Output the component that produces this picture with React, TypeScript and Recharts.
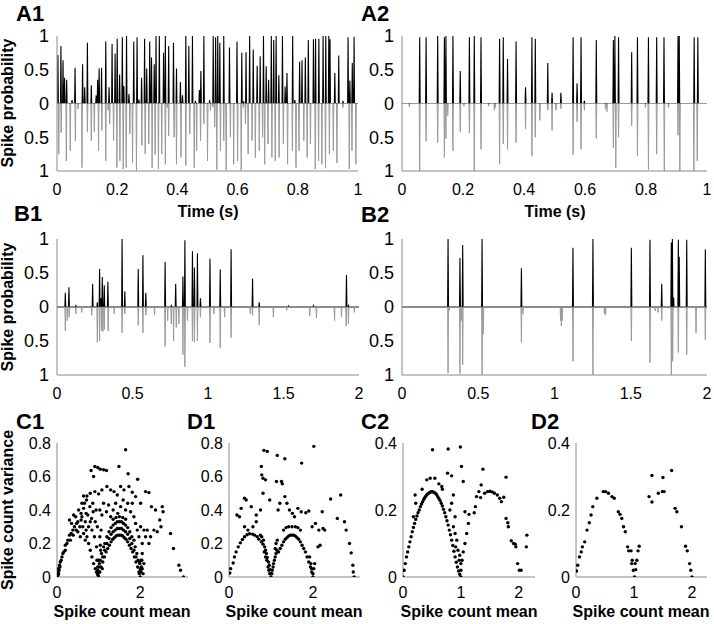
import React from "react";
import { LineChart, Line, XAxis, YAxis, ScatterChart, Scatter } from "recharts";

const FONT = '"Liberation Sans", Arial, Helvetica, sans-serif';
const AXIS = "#8a8a8a";

type Pair = [number, number];

// spike probability, [time (s), probability]
const A1_UP: Pair[] = [
  [0.003,0.72],[0.013,0.85],[0.02,0.64],[0.025,0.38],[0.032,0.35],[0.05,0.05],[0.06,0.53],[0.085,0.58],[0.092,0.24],
  [0.101,0.9],[0.114,0.27],[0.13,0.12],[0.135,0.35],[0.14,0.52],[0.148,0.53],[0.162,0.92],[0.173,0.24],[0.183,0.88],
  [0.193,0.74],[0.2,0.96],[0.208,0.43],[0.217,0.98],[0.222,0.26],[0.231,1.0],[0.239,0.14],[0.255,0.92],[0.266,0.98],
  [0.272,0.06],[0.281,0.38],[0.291,0.96],[0.298,0.52],[0.308,0.92],[0.314,0.68],[0.323,0.58],[0.329,1.0],[0.34,1.0],
  [0.354,0.75],[0.36,1.0],[0.371,0.85],[0.387,0.9],[0.397,0.52],[0.41,0.32],[0.417,0.12],[0.428,1.0],[0.438,0.85],
  [0.45,1.0],[0.46,0.04],[0.473,0.2],[0.478,0.48],[0.488,1.0],[0.507,0.05],[0.519,1.0],[0.527,0.98],[0.534,1.0],
  [0.541,0.9],[0.554,1.0],[0.573,0.83],[0.598,0.92],[0.614,0.75],[0.62,0.03],[0.628,0.76],[0.64,1.0],[0.652,0.8],
  [0.665,0.56],[0.675,0.7],[0.686,1.0],[0.695,0.55],[0.703,0.35],[0.712,1.0],[0.72,0.94],[0.728,1.0],[0.737,0.42],
  [0.749,1.0],[0.758,0.25],[0.764,0.45],[0.783,1.0],[0.79,0.05],[0.806,0.62],[0.814,0.64],[0.825,0.68],[0.835,0.94],
  [0.852,0.95],[0.859,0.96],[0.87,0.96],[0.884,1.0],[0.893,1.0],[0.903,1.0],[0.907,0.95],[0.923,0.45],[0.936,0.71],
  [0.95,0.04],[0.967,0.98],[0.973,0.34],[0.981,0.6],[0.987,0.99],
];
const A1_DOWN: Pair[] = [
  [0.006,0.75],[0.014,0.43],[0.031,0.85],[0.044,0.7],[0.061,0.55],[0.07,0.08],[0.083,0.95],[0.101,0.42],[0.114,0.55],
  [0.124,0.42],[0.138,0.7],[0.149,0.4],[0.162,0.85],[0.17,0.1],[0.175,0.3],[0.188,0.55],[0.199,0.95],[0.209,0.85],
  [0.22,0.97],[0.23,0.95],[0.242,0.45],[0.251,0.88],[0.264,0.99],[0.282,0.62],[0.293,0.75],[0.305,0.6],[0.316,0.95],
  [0.326,0.76],[0.337,0.97],[0.348,0.75],[0.36,0.9],[0.366,0.06],[0.371,0.48],[0.389,0.5],[0.397,0.9],[0.412,0.8],
  [0.428,0.92],[0.441,0.45],[0.456,0.95],[0.464,0.7],[0.477,0.55],[0.488,0.3],[0.5,0.85],[0.51,0.1],[0.518,0.05],
  [0.524,0.35],[0.531,0.98],[0.543,0.7],[0.554,0.55],[0.562,0.99],[0.576,0.5],[0.587,0.9],[0.6,0.85],[0.612,0.99],
  [0.619,0.06],[0.626,0.3],[0.635,0.75],[0.648,0.55],[0.659,0.8],[0.672,0.7],[0.683,0.5],[0.69,0.9],[0.701,0.6],
  [0.714,0.8],[0.725,0.85],[0.738,0.8],[0.752,0.6],[0.766,0.9],[0.782,0.7],[0.794,0.95],[0.804,0.7],[0.82,0.55],
  [0.831,0.8],[0.842,0.6],[0.858,0.97],[0.869,0.85],[0.88,0.9],[0.892,0.96],[0.905,0.75],[0.918,0.7],[0.93,0.88],
  [0.95,0.06],[0.971,0.97],[0.98,0.7],[0.993,0.9],
];
const A2_UP: Pair[] = [
  [0.058,0.98],[0.079,0.98],[0.117,1.0],[0.139,0.98],[0.144,1.0],[0.167,1.0],[0.191,0.48],[0.221,0.98],[0.237,1.0],
  [0.259,0.98],[0.32,0.96],[0.332,0.98],[0.346,0.66],[0.374,0.92],[0.405,0.24],[0.426,0.98],[0.437,0.96],[0.478,0.6],
  [0.492,0.16],[0.521,0.16],[0.561,0.98],[0.574,0.3],[0.587,0.98],[0.598,0.04],[0.637,0.94],[0.693,0.94],[0.698,1.0],
  [0.71,0.98],[0.753,0.76],[0.772,0.98],[0.808,0.98],[0.835,0.98],[0.859,0.98],[0.905,1.0],[0.909,1.0],[0.958,0.98],
  [0.97,0.98],
];
const A2_DOWN: Pair[] = [
  [0.024,0.05],[0.058,1.0],[0.079,0.56],[0.117,0.58],[0.139,0.8],[0.144,0.52],[0.15,0.18],[0.167,0.7],[0.191,0.42],
  [0.203,0.04],[0.221,0.44],[0.237,1.0],[0.259,0.68],[0.284,0.04],[0.303,0.1],[0.306,0.06],[0.32,0.9],[0.332,0.6],
  [0.346,0.68],[0.374,0.58],[0.405,0.38],[0.426,0.78],[0.437,0.5],[0.452,0.25],[0.478,0.1],[0.492,0.4],[0.505,0.1],
  [0.521,0.08],[0.561,0.76],[0.574,0.27],[0.587,0.68],[0.598,0.1],[0.637,0.52],[0.667,0.08],[0.672,0.12],[0.693,0.66],
  [0.701,0.95],[0.71,0.5],[0.753,0.33],[0.772,0.78],[0.798,0.06],[0.808,0.98],[0.835,0.75],[0.86,1.0],[0.874,0.06],
  [0.905,0.47],[0.911,1.0],[0.957,1.0],[0.968,0.85],
];
const B1_UP: Pair[] = [
  [0.055,0.21],[0.079,0.29],[0.125,0.02],[0.236,0.34],[0.267,0.07],[0.282,0.56],[0.291,0.13],[0.3,0.44],[0.313,0.32],
  [0.337,0.37],[0.431,1.0],[0.449,0.23],[0.538,0.56],[0.569,0.76],[0.588,0.21],[0.716,0.66],[0.757,0.02],[0.786,0.34],
  [0.834,0.45],[0.847,0.98],[0.897,0.82],[0.91,0.58],[0.93,0.79],[0.95,0.13],[1.013,0.71],[1.081,0.55],[1.153,0.85],
  [1.295,0.42],[1.339,0.07],[1.532,0.015],[1.698,0.02],[1.917,0.47],[1.93,0.02],
];
const B1_DOWN: Pair[] = [
  [0.055,0.35],[0.068,0.2],[0.081,0.15],[0.125,0.1],[0.164,0.08],[0.23,0.12],[0.267,0.52],[0.282,0.5],[0.295,0.35],
  [0.304,0.36],[0.313,0.33],[0.339,0.35],[0.379,0.1],[0.431,0.38],[0.449,0.1],[0.538,0.27],[0.569,0.38],[0.589,0.12],
  [0.646,0.12],[0.716,0.58],[0.733,0.2],[0.757,0.25],[0.772,0.5],[0.79,0.3],[0.807,0.25],[0.834,0.7],[0.847,0.88],
  [0.864,0.2],[0.897,0.5],[0.91,0.52],[0.93,0.5],[0.95,0.15],[1.013,0.53],[1.039,0.1],[1.081,0.6],[1.11,0.15],
  [1.153,0.45],[1.28,0.1],[1.295,0.12],[1.339,0.26],[1.433,0.15],[1.521,0.05],[1.674,0.13],[1.718,0.16],[1.838,0.2],
  [1.884,0.15],[1.915,0.28],[1.93,0.25],[1.969,0.08],
];
const B2_UP: Pair[] = [
  [0.302,1.0],[0.38,0.72],[0.398,0.91],[0.525,1.0],[0.783,0.57],[1.121,0.87],[1.252,1.0],[1.504,0.87],[1.626,0.99],
  [1.703,0.34],[1.766,0.95],[1.773,1.0],[1.781,0.14],[1.812,0.99],[1.818,0.74],[1.867,0.99],[1.989,0.85],
];
const B2_DOWN: Pair[] = [
  [0.302,0.97],[0.31,0.05],[0.38,0.98],[0.389,0.2],[0.398,0.85],[0.525,1.0],[0.533,0.4],[0.783,0.52],[0.793,0.1],
  [1.04,0.2],[1.045,0.28],[1.05,0.2],[1.121,0.8],[1.252,1.0],[1.327,0.1],[1.335,0.12],[1.504,0.5],[1.626,0.82],
  [1.661,0.06],[1.679,0.08],[1.703,0.2],[1.766,1.0],[1.775,0.8],[1.812,0.67],[1.867,0.7],[1.928,0.38],[1.989,0.48],
];

// spike count [mean, variance]
const C1_PTS: Pair[] = [
  [0.01,0.0],[0.02,0.01],[0.03,0.03],[0.04,0.02],[0.04,0.05],[0.05,0.04],[0.06,0.07],[0.07,0.06],[0.08,0.09],[0.1,0.1],
  [0.12,0.12],[0.14,0.14],[0.16,0.15],[0.2,0.16],[0.2,0.19],[0.24,0.2],[0.26,0.22],[0.32,0.22],[0.3,0.25],[0.34,0.26],
  [0.39,0.25],[0.38,0.28],[0.42,0.3],[0.46,0.28],[0.47,0.32],[0.5,0.33],[0.55,0.3],[0.58,0.34],[0.4,0.37],[0.3,0.34],
  [0.35,0.32],[0.45,0.36],[0.52,0.4],[0.58,0.38],[0.62,0.3],[0.66,0.44],[0.7,0.28],[0.76,0.3],[0.83,0.35],[0.86,0.44],
  [0.94,0.4],[0.97,0.3],[0.7,0.38],[0.6,0.44],
  [0.6,0.36],[0.64,0.41],[0.68,0.33],[0.71,0.46],[0.74,0.37],[0.79,0.42],[0.8,0.33],[0.84,0.28],[0.87,0.39],[0.9,0.24],
  [0.92,0.33],[0.95,0.18],[0.96,0.1],[0.98,0.06],[1.0,0.03],[0.76,0.2],[0.8,0.16],[0.84,0.12],[0.88,0.08],[0.92,0.05],
  [0.72,0.24],[0.64,0.26],[0.68,0.22],[0.56,0.24],[0.5,0.27],[1.03,0.4],[1.08,0.37],[1.06,0.28],[1.03,0.24],[1.04,0.19],
  [1.12,0.44],[1.19,0.39],[1.24,0.43],[1.29,0.36],[1.35,0.4],[1.41,0.44],[1.46,0.38],[1.53,0.42],[1.59,0.46],[1.65,0.4],
  [1.7,0.44],[1.77,0.39],[1.81,0.44],[1.85,0.36],[1.89,0.32],[1.93,0.28],[1.97,0.24],[2.01,0.3],[2.05,0.2],[2.09,0.28],
  [2.13,0.24],[2.17,0.28],[2.21,0.2],[2.25,0.24],[2.33,0.28],[2.41,0.27],[2.05,0.14],[2.02,0.1],[1.99,0.08],[2.05,0.05],
  [2.09,0.08],[2.01,0.04],[2.07,0.02],
  [1.65,0.76],[0.91,0.66],[0.98,0.654],[1.04,0.644],[1.12,0.64],[1.19,0.636],[1.49,0.66],[0.82,0.636],[1.71,0.616],
  [1.94,0.584],[0.88,0.6],[0.64,0.484],[0.72,0.484],[0.8,0.5],[0.91,0.51],[1.0,0.496],[1.08,0.52],[1.2,0.54],[1.29,0.52],
  [1.37,0.51],[1.45,0.49],[1.53,0.54],[1.61,0.52],[1.73,0.54],[1.81,0.506],[1.89,0.48],[2.13,0.51],[2.21,0.504],
  [2.01,0.44],[2.27,0.42],[2.37,0.4],[2.53,0.42],[2.55,0.39],[2.47,0.34],[2.5,0.3],[2.73,0.26],[2.8,0.17],[2.93,0.07],
  [2.97,0.04],[3.04,0.0],
  [1.0,0.0],[1.03,0.03],[1.06,0.06],[1.1,0.09],[1.14,0.12],[1.18,0.15],[1.22,0.17],[1.26,0.19],[1.3,0.21],[1.34,0.225],
  [1.38,0.235],[1.42,0.245],[1.46,0.25],[1.5,0.25],[1.54,0.25],[1.58,0.245],[1.62,0.235],[1.66,0.225],[1.7,0.21],
  [1.74,0.19],[1.78,0.17],[1.82,0.15],[1.86,0.12],[1.9,0.09],[1.94,0.06],[1.97,0.03],[2.0,0.0],
  [1.1,0.12],[1.15,0.16],[1.2,0.2],[1.25,0.23],[1.3,0.255],[1.35,0.27],[1.4,0.28],[1.45,0.29],[1.5,0.29],[1.55,0.29],
  [1.6,0.28],[1.65,0.27],[1.7,0.255],[1.75,0.23],[1.8,0.2],[1.85,0.16],[1.9,0.12],
  [1.2,0.24],[1.25,0.27],[1.3,0.295],[1.35,0.31],[1.4,0.32],[1.45,0.33],[1.5,0.33],[1.55,0.33],[1.6,0.32],[1.65,0.31],
  [1.7,0.295],[1.75,0.27],[1.8,0.24],[1.35,0.345],[1.42,0.355],[1.5,0.36],[1.58,0.355],[1.65,0.345],
  [0.97,0.02],[0.98,0.04],[0.99,0.01],[1.0,0.06],[1.01,0.03],[1.02,0.08],[0.95,0.03],[1.0,0.1],[1.98,0.02],[2.0,0.05],
  [2.02,0.03],[2.03,0.06],[1.99,0.09],[2.04,0.1],[1.04,0.1],[1.07,0.14],[1.09,0.05],[1.12,0.18],[1.05,0.16],[1.15,0.2],
  [1.88,0.18],[1.92,0.14],[1.95,0.1],[1.85,0.22],
];
const D1_PTS: Pair[] = [
  [0.02,0.024],[0.04,0.05],[0.1,0.084],[0.13,0.12],[0.17,0.15],[0.22,0.18],[0.27,0.204],[0.32,0.224],[0.37,0.24],
  [0.43,0.252],[0.49,0.258],[0.56,0.256],[0.61,0.25],[0.67,0.24],[0.71,0.226],[0.77,0.21],[0.81,0.196],[0.85,0.18],
  [0.87,0.16],[0.89,0.14],[0.91,0.116],[0.94,0.09],[0.96,0.07],[0.98,0.044],[1.0,0.02],[1.0,0.0],
  [0.93,0.06],[0.95,0.04],[0.97,0.02],[0.9,0.1],[0.87,0.12],[0.84,0.15],[0.82,0.22],[0.78,0.24],[0.75,0.25],
  [1.02,0.02],[1.03,0.04],[1.05,0.06],[1.06,0.08],[1.08,0.1],[1.1,0.12],[1.12,0.14],[1.14,0.16],[1.1,0.17],[1.12,0.2],
  [1.15,0.22],[1.18,0.15],[1.22,0.17],[1.26,0.19],[1.3,0.21],[1.34,0.225],[1.38,0.235],[1.42,0.245],[1.46,0.25],
  [1.5,0.25],[1.54,0.25],[1.58,0.245],[1.62,0.235],[1.66,0.225],[1.7,0.21],[1.74,0.19],[1.78,0.17],[1.82,0.15],
  [1.86,0.12],[1.9,0.09],[1.94,0.06],[1.97,0.03],[2.0,0.0],
  [1.3,0.28],[1.36,0.295],[1.42,0.3],[1.5,0.3],[1.58,0.3],[1.64,0.295],[1.7,0.28],[1.95,0.08],[1.97,0.05],[2.0,0.02],
  [2.02,0.05],[2.04,0.08],[1.92,0.12],
  [0.41,0.46],[0.53,0.42],[0.65,0.37],[0.75,0.4],[0.81,0.5],[0.77,0.66],[0.78,0.61],[0.81,0.59],[0.83,0.756],[0.91,0.75],
  [1.15,0.726],[1.33,0.706],[0.87,0.58],[0.97,0.46],[1.13,0.57],[1.17,0.4],[1.25,0.57],[1.27,0.556],[1.21,0.44],
  [1.33,0.48],[1.38,0.44],[1.44,0.4],[1.51,0.38],[1.56,0.36],[1.64,0.41],[1.72,0.39],[1.73,0.68],[2.02,0.78],
  [1.83,0.384],[1.9,0.394],[1.98,0.3],[2.06,0.32],[2.14,0.28],[2.22,0.39],[2.24,0.29],[2.28,0.28],[2.42,0.466],
  [2.66,0.49],[2.58,0.35],[2.75,0.33],[2.79,0.28],[2.87,0.2],[2.91,0.144],[2.95,0.07],[2.98,0.0],[2.96,0.03],
  [2.12,0.18],[2.17,0.19],[0.65,0.33],[0.57,0.3],[0.45,0.28],[0.37,0.3],[0.25,0.36],[0.19,0.37],[0.29,0.41],[0.37,0.47],
];
const C2_PTS: Pair[] = [
  [0.0,0.0],[0.02,0.02],[0.04,0.04],[0.06,0.06],[0.08,0.075],[0.1,0.09],[0.12,0.105],[0.14,0.12],[0.16,0.135],
  [0.18,0.148],[0.2,0.16],[0.22,0.172],[0.24,0.182],[0.26,0.192],[0.28,0.2],[0.3,0.21],[0.32,0.218],[0.34,0.225],
  [0.36,0.232],[0.38,0.238],[0.4,0.243],[0.42,0.247],[0.44,0.25],[0.46,0.252],[0.48,0.254],[0.5,0.255],[0.52,0.254],
  [0.54,0.252],[0.56,0.25],[0.58,0.246],[0.6,0.24],[0.62,0.234],[0.64,0.228],[0.66,0.22],[0.68,0.212],[0.7,0.202],
  [0.72,0.192],[0.74,0.18],[0.76,0.168],[0.78,0.155],[0.8,0.14],[0.82,0.126],[0.84,0.11],[0.86,0.094],[0.88,0.077],
  [0.9,0.06],[0.92,0.044],[0.94,0.03],[0.96,0.018],[0.98,0.008],[1.0,0.0],
  [0.18,0.18],[0.22,0.22],[0.21,0.245],[0.33,0.262],[0.41,0.29],[0.47,0.295],[0.55,0.295],[0.62,0.278],[0.67,0.27],
  [0.68,0.262],[0.51,0.38],[0.78,0.382],[0.99,0.388],[0.77,0.31],[0.84,0.302],[1.01,0.33],[1.04,0.285],[0.87,0.245],
  [0.84,0.22],[0.81,0.2],[0.9,0.18],[0.87,0.15],[0.9,0.13],[0.93,0.11],[0.91,0.09],[0.95,0.08],[0.98,0.065],[1.0,0.04],
  [1.0,0.02],[1.02,0.05],[0.97,0.05],[1.04,0.075],[1.07,0.1],[1.1,0.13],[1.13,0.16],[1.07,0.195],[1.14,0.187],
  [1.23,0.192],[1.25,0.21],[1.27,0.24],[1.31,0.255],[1.35,0.275],[1.38,0.322],[1.34,0.237],[1.41,0.25],[1.46,0.255],
  [1.5,0.256],[1.54,0.254],[1.58,0.25],[1.63,0.245],[1.67,0.235],[1.7,0.225],[1.74,0.238],[1.78,0.298],[1.78,0.175],
  [1.81,0.162],[1.82,0.15],[1.87,0.108],[1.91,0.1],[1.95,0.09],[1.98,0.04],[2.01,0.02],[2.04,0.02],[2.13,0.09],
  [2.14,0.125],[1.94,0.098],
];
const D2_PTS: Pair[] = [
  [0.01,0.018],[0.03,0.035],[0.06,0.06],[0.09,0.075],[0.11,0.09],[0.15,0.105],[0.19,0.14],[0.23,0.162],[0.26,0.185],
  [0.29,0.21],[0.36,0.235],[0.47,0.255],[0.51,0.255],[0.56,0.25],[0.62,0.24],[0.66,0.235],[0.73,0.195],[0.76,0.187],
  [0.79,0.175],[0.82,0.15],[0.85,0.135],[0.89,0.09],[0.91,0.078],[0.95,0.078],[0.97,0.05],[0.99,0.02],[1.01,0.0],
  [1.03,0.022],[1.05,0.05],[1.07,0.078],[1.09,0.092],[0.96,0.04],[1.02,0.04],
  [1.26,0.24],[1.31,0.224],[1.31,0.303],[1.42,0.25],[1.49,0.255],[1.52,0.255],[1.5,0.297],[1.65,0.318],[1.71,0.205],
  [1.74,0.195],[1.82,0.15],[1.89,0.092],[1.92,0.078],[1.96,0.04],[1.98,0.02],[2.0,0.0],
];

const A_TICKS = [0, 0.2, 0.4, 0.6, 0.8, 1];
const B_TICKS = [0, 0.5, 1, 1.5, 2];
const PROB_TICKS = [-1, -0.5, 0, 0.5, 1];
const CD1_Y_TICKS = [0, 0.2, 0.4, 0.6, 0.8];
const CD2_Y_TICKS = [0, 0.2, 0.4];
const MEAN_TICKS_1 = [0, 2];
const MEAN_TICKS_2 = [0, 1, 2];

function trace(spikes: Pair[], xMax: number, hw: number, sign: number) {
  const pts = [{ t: 0, p: 0 }];
  [...spikes].sort((a, b) => a[0] - b[0]).forEach(([t, p]) => {
    pts.push({ t: t - hw, p: 0 }, { t, p: sign * p }, { t: t + hw, p: 0 });
  });
  pts.push({ t: xMax, p: 0 });
  return pts;
}

const tickStyle = (size: number) => ({ fontSize: size, fill: "#000", fontFamily: FONT });

function SpikePanel({ x, y, w, h, up, down, xMax, xTicks, hw }: any) {
  const YW = 57;
  return (
    <div style={{ position: "absolute", left: x - YW, top: y - 12 }}>
      <LineChart width={YW + w + 14} height={12 + h + 34} margin={{ top: 12, right: 14, left: 0, bottom: 0 }}>
        <XAxis type="number" dataKey="t" domain={[0, xMax]} ticks={xTicks} allowDataOverflow interval={0}
          axisLine={{ stroke: AXIS }} tickLine={false} tickSize={0} tickMargin={13} height={34} tick={tickStyle(16)} />
        <YAxis type="number" domain={[-1, 1]} ticks={PROB_TICKS} allowDataOverflow interval={0} width={YW}
          tickFormatter={(v: number) => String(Math.abs(v))}
          axisLine={{ stroke: AXIS }} tickLine={false} tickSize={0} tickMargin={8} tick={tickStyle(18)} />
        <Line data={trace(up, xMax, hw, 1)} dataKey="p" type="linear" stroke="#000" strokeWidth={1.1}
          dot={false} isAnimationActive={false} />
        <Line data={trace(down, xMax, hw, -1)} dataKey="p" type="linear" stroke="#9a9a9a" strokeWidth={1}
          dot={false} isAnimationActive={false} />
      </LineChart>
    </div>
  );
}

function ScatterPanel({ x, y, w, h, pts, xMax, xTicks, yMax, yTicks }: any) {
  const YW = 50;
  const data = pts.map(([m, v]: Pair) => ({ m, v }));
  return (
    <div style={{ position: "absolute", left: x - YW, top: y - 12 }}>
      <ScatterChart width={YW + w + 12} height={12 + h + 30} margin={{ top: 12, right: 12, left: 0, bottom: 0 }}>
        <XAxis type="number" dataKey="m" domain={[0, xMax]} ticks={xTicks} allowDataOverflow interval={0}
          axisLine={{ stroke: AXIS }} tickLine={false} tickSize={0} tickMargin={10} height={30} tick={tickStyle(16)} />
        <YAxis type="number" dataKey="v" domain={[0, yMax]} ticks={yTicks} allowDataOverflow interval={0} width={YW}
          axisLine={{ stroke: AXIS }} tickLine={false} tickSize={0} tickMargin={6} tick={tickStyle(16)} />
        <Scatter data={data} isAnimationActive={false}
          shape={(p: any) => <circle cx={p.cx} cy={p.cy} r={1.7} fill="#000" />} />
      </ScatterChart>
    </div>
  );
}

const bold = { fontFamily: FONT, fontWeight: 700 } as const;

export default function App() {
  return (
    <div style={{ position: "absolute", left: 0, top: 0, width: 714, height: 624, background: "#fff" }}>
      <SpikePanel x={57} y={36} w={301} h={135} up={A1_UP} down={A1_DOWN} xMax={1} xTicks={A_TICKS} hw={0.0015} />
      <SpikePanel x={402} y={36} w={305} h={135} up={A2_UP} down={A2_DOWN} xMax={1} xTicks={A_TICKS} hw={0.0015} />
      <SpikePanel x={57} y={239} w={302} h={136} up={B1_UP} down={B1_DOWN} xMax={2} xTicks={B_TICKS} hw={0.003} />
      <SpikePanel x={402} y={239} w={305} h={136} up={B2_UP} down={B2_DOWN} xMax={2} xTicks={B_TICKS} hw={0.003} />
      <ScatterPanel x={57} y={443} w={131} h={134} pts={C1_PTS} xMax={3.15} xTicks={MEAN_TICKS_1} yMax={0.8} yTicks={CD1_Y_TICKS} />
      <ScatterPanel x={229} y={443} w={131} h={134} pts={D1_PTS} xMax={3.12} xTicks={MEAN_TICKS_1} yMax={0.8} yTicks={CD1_Y_TICKS} />
      <ScatterPanel x={403} y={443} w={132} h={134} pts={C2_PTS} xMax={2.28} xTicks={MEAN_TICKS_2} yMax={0.4} yTicks={CD2_Y_TICKS} />
      <ScatterPanel x={576} y={443} w={131} h={134} pts={D2_PTS} xMax={2.26} xTicks={MEAN_TICKS_2} yMax={0.4} yTicks={CD2_Y_TICKS} />
      <svg width={714} height={624} style={{ position: "absolute", left: 0, top: 0, pointerEvents: "none" }}>
        <g style={bold} fontSize={22}>
          <text x={16} y={21}>A1</text>
          <text x={361} y={21}>A2</text>
          <text x={14} y={221}>B1</text>
          <text x={361} y={222}>B2</text>
          <text x={16} y={429}>C1</text>
          <text x={187} y={429}>D1</text>
          <text x={361} y={429}>C2</text>
          <text x={531} y={429}>D2</text>
        </g>
        <g style={bold} fontSize={16} textAnchor="middle">
          <text x={208} y={217}>Time (s)</text>
          <text x={555} y={217}>Time (s)</text>
          <text x={122} y={617}>Spike count mean</text>
          <text x={294} y={617}>Spike count mean</text>
          <text x={469} y={617}>Spike count mean</text>
          <text x={641} y={617}>Spike count mean</text>
          <text transform="translate(13,103) rotate(-90)">Spike probability</text>
          <text transform="translate(13,307) rotate(-90)">Spike probability</text>
          <text transform="translate(13,510) rotate(-90)">Spike count variance</text>
        </g>
      </svg>
    </div>
  );
}
